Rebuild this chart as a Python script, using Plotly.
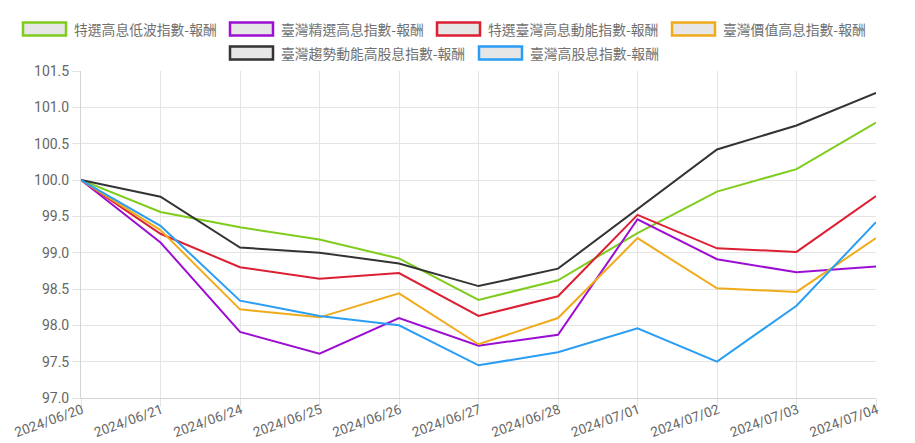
import plotly.graph_objects as go

dates = ["2024/06/20", "2024/06/21", "2024/06/24", "2024/06/25", "2024/06/26",
         "2024/06/27", "2024/06/28", "2024/07/01", "2024/07/02", "2024/07/03", "2024/07/04"]

names = ["特選高息低波指數-報酬", "臺灣精選高息指數-報酬", "特選臺灣高息動能指數-報酬",
         "臺灣價值高息指數-報酬", "臺灣趨勢動能高股息指數-報酬", "臺灣高股息指數-報酬"]
colors = ["#7fcc1c", "#9c0fd2", "#dc1f33", "#f0ab1b", "#333333", "#2a9df4"]

green = [100.0, 99.56, 99.35, 99.18, 98.92, 98.35, 98.62, 99.27, 99.84, 100.15, 100.79]
purple = [100.0, 99.14, 97.91, 97.61, 98.10, 97.72, 97.87, 99.46, 98.91, 98.73, 98.81]
red = [100.0, 99.26, 98.80, 98.64, 98.72, 98.13, 98.40, 99.52, 99.06, 99.01, 99.78]
orange = [100.0, 99.31, 98.22, 98.11, 98.44, 97.74, 98.10, 99.20, 98.51, 98.46, 99.20]
black = [100.0, 99.77, 99.07, 99.00, 98.85, 98.54, 98.78, 99.60, 100.42, 100.75, 101.20]
blue = [100.0, 99.37, 98.34, 98.13, 98.00, 97.45, 97.63, 97.96, 97.50, 98.27, 99.42]
series = [green, purple, red, orange, black, blue]

W, H = 915, 443
L, R, T, B = 81, 39, 71, 45
PW, PH = W - L - R, H - T - B

fig = go.Figure()
for n, c, s in zip(names, colors, series):
    fig.add_trace(go.Scatter(x=dates, y=s, name=n, mode="lines",
                             line=dict(color=c, width=2), showlegend=False))

# manual legend (box + label), positions in pixels
legend_pos = [(22, 29), (229, 29), (436, 29), (671, 29), (229, 53), (478, 53)]

def px2x(px):
    return (px - L) / PW

def py2y(py):
    return (H - B - py) / PH

shapes = []
annos = []
for (bx, by), n, c in zip(legend_pos, names, colors):
    shapes.append(dict(type="rect", xref="paper", yref="paper",
                       x0=px2x(bx + 1), x1=px2x(bx + 44), y0=py2y(by - 6.5), y1=py2y(by + 6.5),
                       fillcolor="#e6e6e6", line=dict(color=c, width=2.5)))
    annos.append(dict(xref="paper", yref="paper", x=px2x(bx + 50), y=py2y(by),
                      xanchor="left", yanchor="middle", text=n, showarrow=False,
                      font=dict(size=13.8, color="#707070",
                                family="Noto Sans CJK TC, sans-serif")))

fig.update_layout(
    width=W, height=H,
    margin=dict(l=L, r=R, t=T, b=B, autoexpand=False),
    plot_bgcolor="white", paper_bgcolor="white",
    shapes=shapes, annotations=annos,
    showlegend=False,
    font=dict(family="Roboto, Arial, sans-serif", color="#666666", size=14),
)
fig.update_xaxes(type="category", range=[0, len(dates) - 1], tickangle=-20,
                 automargin=False, ticklabelstandoff=-10, ticklabelshift=1,
                 showgrid=True, gridcolor="#e4e4e4", gridwidth=1,
                 ticks="outside", ticklen=8, tickcolor="#e4e4e4",
                 showline=True, linecolor="#d4d4d4", linewidth=1,
                 tickfont=dict(size=13.5, color="#666666"), zeroline=False)
fig.update_yaxes(range=[97, 101.5], dtick=0.5, tick0=97, tickformat=".1f",
                 automargin=False,
                 showgrid=True, gridcolor="#e4e4e4", gridwidth=1,
                 ticks="outside", ticklen=8, tickcolor="#e4e4e4",
                 showline=True, linecolor="#d4d4d4", linewidth=1,
                 tickfont=dict(size=14, color="#666666"), zeroline=False)

fig.write_html("out.html")
